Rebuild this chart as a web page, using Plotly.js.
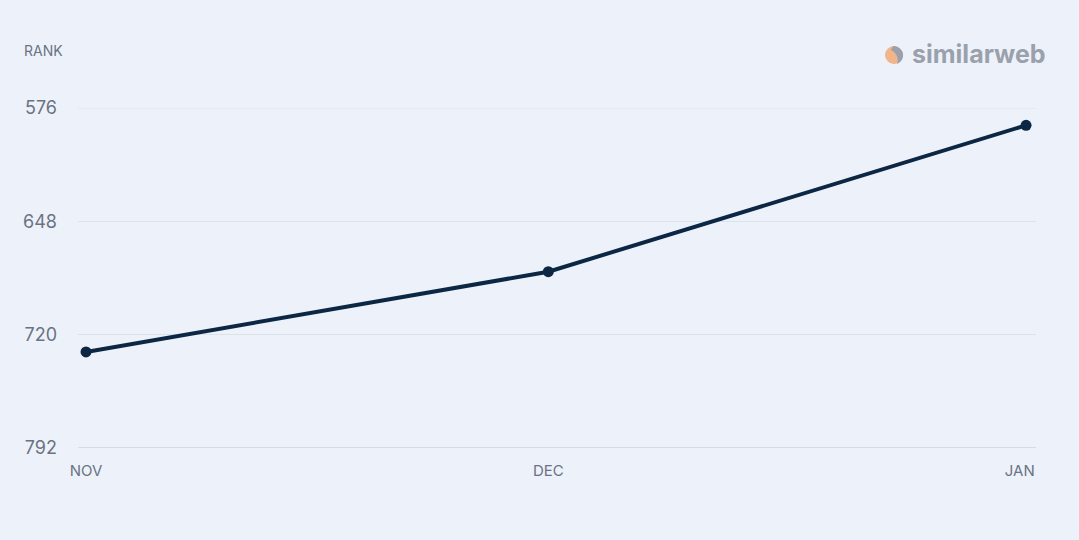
<!DOCTYPE html>
<html>
<head>
<meta charset="utf-8">
<script src="https://cdn.plot.ly/plotly-3.0.1.min.js"></script>
<style>
  html, body { margin: 0; padding: 0; background: #edf2fa; }
  #chart { width: 1079px; height: 540px; }
</style>
</head>
<body>
<div id="chart"></div>
<script>
const monthDates = ["2024-11-01", "2024-12-01", "2025-01-01"];
const months = ["NOV", "DEC", "JAN\u00A0\u00A0\u00A0"];
const rank = [731, 680, 587];
const yTicks = [576, 648, 720, 792];

const trace = {
  x: monthDates,
  y: rank,
  type: "scatter",
  mode: "lines+markers",
  line: { color: "#0c2744", width: 4 },
  marker: { color: "#0c2744", size: 11 },
  hoverinfo: "skip"
};

const W = 958, H = 340, L = 78, T = 108;
const px = (x) => (x - L) / W;
const py = (y) => (T + H - y) / H;

const layout = {
  width: 1079,
  height: 540,
  paper_bgcolor: "#edf2fa",
  plot_bgcolor: "rgba(0,0,0,0)",
  margin: { l: 78, r: 43, t: 108, b: 92 },
  showlegend: false,
  font: { family: "Inter, 'Open Sans', sans-serif", color: "#6b7383" },
  xaxis: {
    type: "date",
    range: ["2024-10-31 11:30", "2025-01-01 15:30"],
    tickvals: monthDates,
    ticktext: months,
    showgrid: false,
    zeroline: false,
    showline: false,
    ticks: "",
    ticklabelstandoff: 12,
    tickfont: { size: 15, color: "#6b7383" },
    fixedrange: true
  },
  yaxis: {
    range: [792, 576],
    tickvals: yTicks,
    ticktext: yTicks.map(String),
    showgrid: true,
    gridcolor: "#dce2eb",
    gridwidth: 1,
    zeroline: false,
    showline: false,
    ticks: "",
    ticklabelstandoff: 20,
    tickfont: { size: 18, color: "#6b7383" },
    fixedrange: true
  },
  shapes: [
    { type: "line", xref: "paper", yref: "y", x0: 0, x1: 1, y0: 576, y1: 576,
      line: { color: "#dce2eb", width: 1 } },
    { type: "line", xref: "paper", yref: "y", x0: 0, x1: 1, y0: 792, y1: 792,
      line: { color: "#cdd4df", width: 1.5 } },
    { type: "circle", xref: "paper", yref: "paper",
      x0: px(885), x1: px(903), y0: py(64), y1: py(46),
      fillcolor: "#f2b48b", line: { width: 0 } },
    { type: "path", xref: "paper", yref: "paper",
      path: `M ${px(893)},${py(46)} C ${px(900)},${py(46)} ${px(904)},${py(52)} ${px(903)},${py(57)} C ${px(902)},${py(61)} ${px(899)},${py(63)} ${px(897)},${py(64)} C ${px(899)},${py(59)} ${px(897)},${py(53)} ${px(891)},${py(50)} Z`,
      fillcolor: "#9aa1ac", line: { width: 0 } }
  ],
  annotations: [
    { text: "RANK", xref: "paper", yref: "paper", x: px(22), y: py(51),
      xanchor: "left", yanchor: "middle", showarrow: false,
      font: { size: 14, color: "#6b7383" } },
    { text: "<b>similarweb</b>", xref: "paper", yref: "paper", x: px(1048), y: py(54),
      xanchor: "right", yanchor: "middle", showarrow: false,
      font: { size: 25, color: "#9aa1ac", family: "Inter, 'Open Sans', sans-serif" } }
  ]
};

Plotly.newPlot("chart", [trace], layout, { displayModeBar: false, staticPlot: true });
</script>
</body>
</html>
